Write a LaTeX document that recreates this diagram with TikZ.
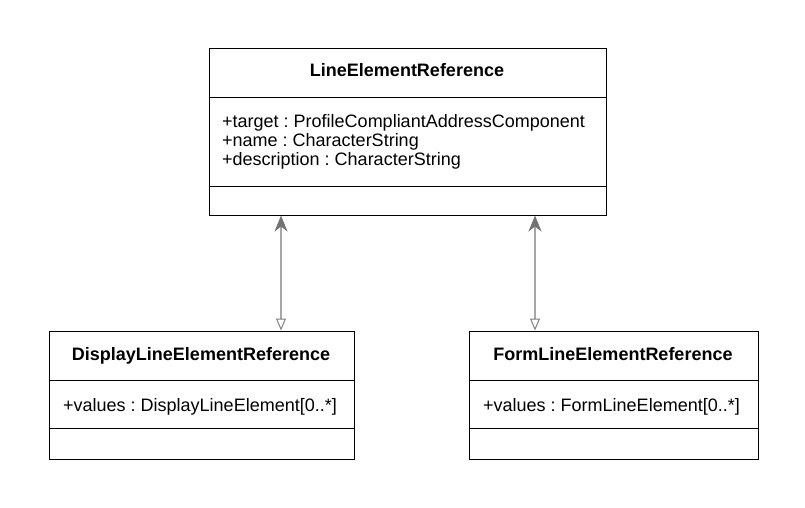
\documentclass[tikz,border=0pt]{standalone}
\usepackage{fontspec}
\setmainfont{Liberation Sans}
\usetikzlibrary{arrows.meta}
\frenchspacing
\begin{document}
\begin{tikzpicture}[x=1pt,y=-1pt,
  box/.style={draw=black,line width=1pt,anchor=north west,inner sep=0pt},
  divider/.style={draw=black,line width=1pt},
  ttl/.style={font=\fontsize{18}{19}\selectfont\bfseries,anchor=base,inner sep=0pt},
  attr/.style={font=\fontsize{18}{19}\selectfont,anchor=base west,inner sep=0pt},
  gen/.style={draw=black!35,line width=1.6pt,
    {Triangle[open,length=12pt,width=10pt,line width=1pt,color=black!50]}-{Stealth[length=16pt,width=13pt,inset=5pt,color=black!55]}}]
\useasboundingbox (0,0) rectangle (805,507);
% top class
\node[box,minimum width=397pt,minimum height=167pt] (ler) at (208.5,47.5) {};
\draw[divider] (208.5,97.5) coordinate (lerd1) -- (lerd1 -| ler.east);
\draw[divider] (208.5,186.5) coordinate (lerd2) -- (lerd2 -| ler.east);
\node[ttl] (lert) at (407,76) {LineElementReference};
\node[attr] (lera1) at (222,127.5) {+target : ProfileCompliantAddressComponent};
\node[attr] (lera2) at (222,146.5) {+name : CharacterString};
\node[attr] (lera3) at (222,165.5) {+description : CharacterString};
% bottom left class
\node[box,minimum width=305pt,minimum height=128pt] (dle) at (48.5,330.5) {};
\draw[divider] (48.5,380) coordinate (dled1) -- (dled1 -| dle.east);
\draw[divider] (48.5,428.5) coordinate (dled2) -- (dled2 -| dle.east);
\node[ttl] (dlet) at (201,360) {DisplayLineElementReference};
\node[attr] (dlea1) at (63,411) {+values : DisplayLineElement[0..*]};
% bottom right class
\node[box,minimum width=289pt,minimum height=128pt] (fle) at (468.5,330.5) {};
\draw[divider] (468.5,380) coordinate (fled1) -- (fled1 -| fle.east);
\draw[divider] (468.5,428.5) coordinate (fled2) -- (fled2 -| fle.east);
\node[ttl] (flet) at (613,360) {FormLineElementReference};
\node[attr] (flea1) at (483,411) {+values : FormLineElement[0..*]};
% connectors
\coordinate (c1) at (281,0);
\coordinate (c2) at (535,0);
\draw[gen] (dle.north -| c1) -- (ler.south -| c1);
\draw[gen] (fle.north -| c2) -- (ler.south -| c2);
\end{tikzpicture}
\end{document}
